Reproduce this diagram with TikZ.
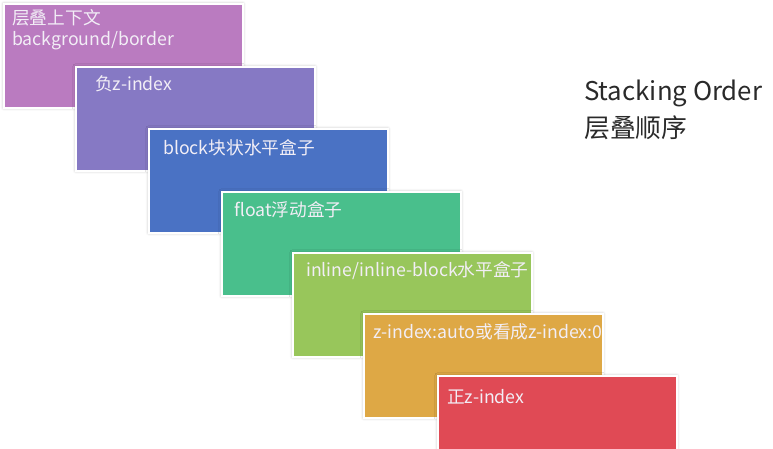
\documentclass[tikz,border=0pt]{standalone}
\usepackage{fontspec}
\setmainfont{Noto Sans CJK SC}
\usetikzlibrary{shadows.blur}
\definecolor{cA}{HTML}{BA7BC0}
\definecolor{cB}{HTML}{8679C4}
\definecolor{cC}{HTML}{4A72C4}
\definecolor{cD}{HTML}{49BF8C}
\definecolor{cE}{HTML}{98C65B}
\definecolor{cF}{HTML}{DEA845}
\definecolor{cG}{HTML}{E04A55}
\definecolor{txtc}{HTML}{F2EEF6}
\definecolor{dark}{HTML}{2A2A2A}
\tikzset{
  layerbox/.style={rectangle, draw=white, line width=1.5pt, minimum width=239pt, minimum height=104pt,
    anchor=north west, inner sep=0pt,
    blur shadow={shadow xshift=0pt, shadow yshift=0pt, shadow blur radius=3pt, shadow opacity=30}},
  lbl/.style={anchor=west, inner sep=0pt, text=txtc, font=\fontsize{17.7}{20}\selectfont},
  title/.style={anchor=west, inner sep=0pt, text=dark, font=\fontsize{25.8}{30}\selectfont}
}
\begin{document}
\begin{tikzpicture}[x=1pt,y=-1pt]
\useasboundingbox (0,0) rectangle (773,448);
\clip (0,0) rectangle (773,448);
\node[layerbox, fill=cA] (b1) at (3,3) {};
\node[layerbox, fill=cB] (b2) at (75,66) {};
\node[layerbox, fill=cC] (b3) at (148,128) {};
\node[layerbox, fill=cD] (b4) at (221,191) {};
\node[layerbox, fill=cE] (b5) at (292,252) {};
\node[layerbox, fill=cF] (b6) at (363,313) {};
\node[layerbox, fill=cG] (b7) at (437,375) {};
\node[lbl] (t1a) at (12,18) {层叠上下文};
\node[lbl] (t1b) at (12,41) {background/border};
\node[lbl] (t2) at (95,84) {负z-index};
\node[lbl] (t3) at (163,148) {block块状水平盒子};
\node[lbl] (t4) at (234,210) {float浮动盒子};
\node[lbl] (t5) at (306,271) {inline/inline-block水平盒子};
\node[lbl] (t6) at (373,332) {z-index:auto或看成z-index:0};
\node[lbl] (t7) at (447,397) {正z-index};
\node[title] (s1) at (584,93) {Stacking Order};
\node[title] (s2) at (584,128) {层叠顺序};
\end{tikzpicture}
\end{document}
